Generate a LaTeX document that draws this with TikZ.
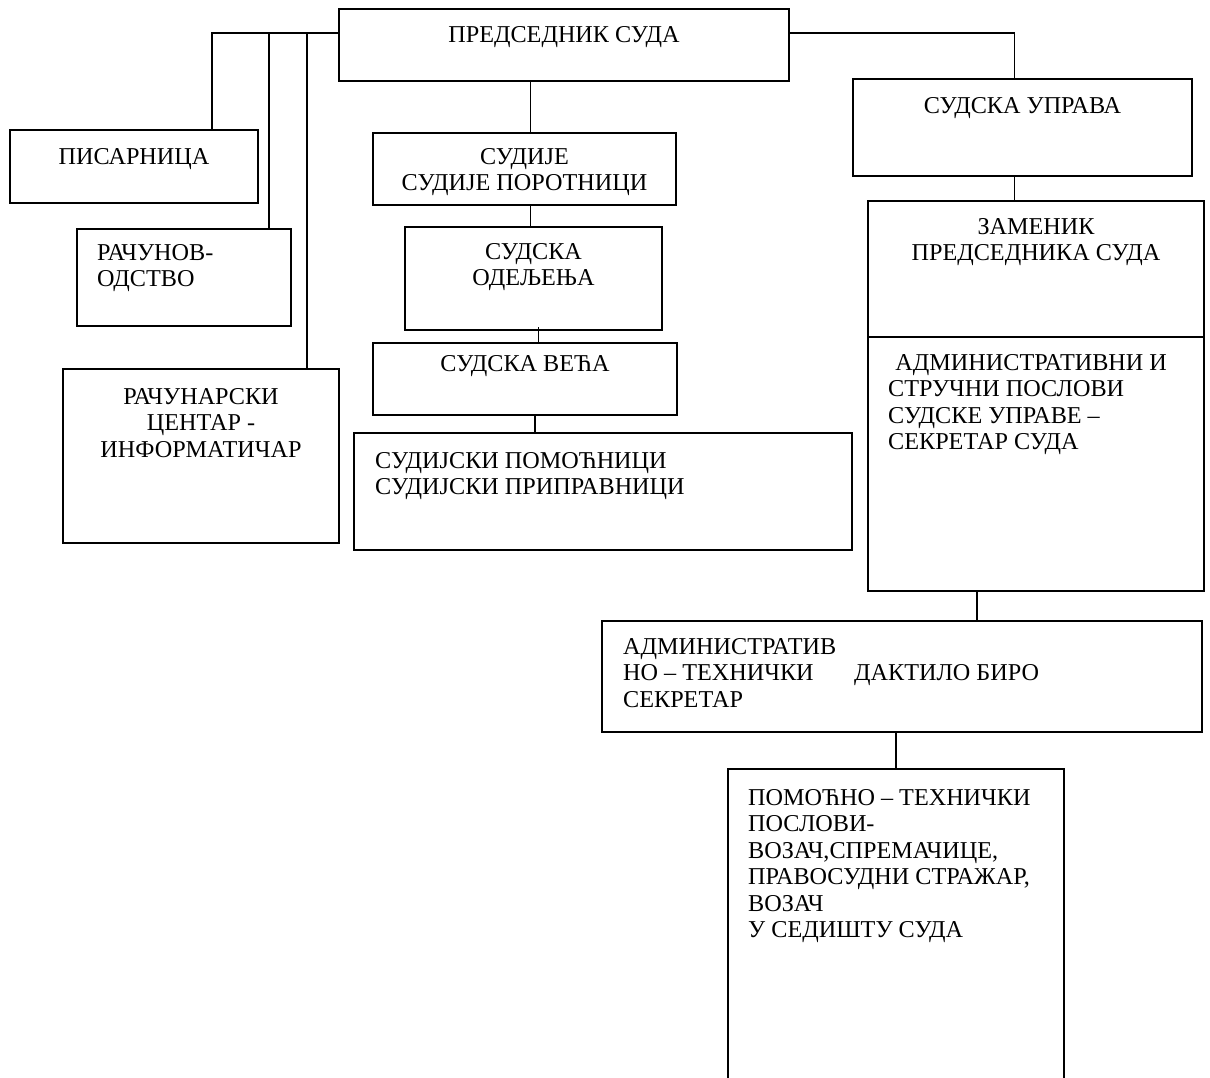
\documentclass[tikz,border=0pt]{standalone}
\usepackage{fontspec}
\setmainfont{Liberation Serif}
\usetikzlibrary{positioning}

\tikzset{
  box/.style={draw, line width=1.7pt, anchor=north west, inner sep=0pt, outer sep=0pt},
  link/.style={line width=1.7pt},
  txt/.style={inner sep=0pt, font=\fontsize{24.2}{26.5}\selectfont, align=center},
  txtl/.style={txt, align=left}
}

\begin{document}
\begin{tikzpicture}[x=1pt, y=-1pt]
  \useasboundingbox (0,0) rectangle (1210,1077);
  \clip (0,0) rectangle (1210,1077);

  % boxes
  \node[box, minimum width=450pt, minimum height=72pt] (pred) at (339,9) {};
  \node[box, minimum width=248pt, minimum height=73pt] (pis) at (10,130) {};
  \node[box, minimum width=214pt, minimum height=97pt] (racun) at (77,229) {};
  \node[box, minimum width=276pt, minimum height=174pt] (centar) at (63,369) {};
  \node[box, minimum width=303pt, minimum height=72pt] (sudije) at (373,133) {};
  \node[box, minimum width=257pt, minimum height=103pt] (odeljenja) at (405,227) {};
  \node[box, minimum width=304pt, minimum height=72pt] (veca) at (373,343) {};
  \node[box, minimum width=498pt, minimum height=117pt] (pomocnici) at (354,433) {};
  \node[box, minimum width=339pt, minimum height=97pt] (uprava) at (853,79) {};
  \node[box, minimum width=336pt, minimum height=390pt] (zamenik) at (868,201) {};
  \node[box, minimum width=600pt, minimum height=111pt] (admin) at (602,621) {};
  \node[box, minimum width=336pt, minimum height=340pt] (pomtech) at (728,769) {};
  \draw[link] ([yshift=-136pt]zamenik.north west) -- ([yshift=-136pt]zamenik.north east);

  % texts
  \node[txt, below=17pt of pred.north] (t-pred) {ПРЕДСЕДНИК СУДА};
  \node[txt, below=18pt of pis.north] (t-pis) {ПИСАРНИЦА};
  \node[txtl, below right=15pt and 20pt of racun.north west] (t-racun) {РАЧУНОВ-\\ОДСТВО};
  \node[txt, below=19pt of centar.north] (t-centar) {РАЧУНАРСКИ\\ЦЕНТАР -\\ИНФОРМАТИЧАР};
  \node[txt, below=15pt of sudije.north] (t-sudije) {СУДИЈЕ\\СУДИЈЕ ПОРОТНИЦИ};
  \node[txt, below=16pt of odeljenja.north] (t-odeljenja) {СУДСКА\\ОДЕЉЕЊА};
  \node[txt, below=12pt of veca.north] (t-veca) {СУДСКА ВЕЋА};
  \node[txtl, below right=19pt and 21pt of pomocnici.north west] (t-pomocnici) {СУДИЈСКИ ПОМОЋНИЦИ\\СУДИЈСКИ ПРИПРАВНИЦИ};
  \node[txt, below=18pt of uprava.north] (t-uprava) {СУДСКА УПРАВА};
  \node[txt, below=17pt of zamenik.north] (t-zamenik) {ЗАМЕНИК\\ПРЕДСЕДНИКА СУДА};
  \node[txtl, below right=153pt and 20pt of zamenik.north west] (t-sekretar)
    {\hspace*{0.3em}АДМИНИСТРАТИВНИ И\\СТРУЧНИ ПОСЛОВИ\\СУДСКЕ УПРАВЕ –\\СЕКРЕТАР СУДА};
  \node[txtl, below right=17pt and 21pt of admin.north west] (t-admin)
    {АДМИНИСТРАТИВ\\\makebox[231pt][l]{НО – ТЕХНИЧКИ}ДАКТИЛО БИРО\\СЕКРЕТАР};
  \node[txtl, below right=20pt and 20pt of pomtech.north west] (t-pomtech)
    {ПОМОЋНО – ТЕХНИЧКИ\\ПОСЛОВИ-\\ВОЗАЧ,СПРЕМАЧИЦЕ,\\ПРАВОСУДНИ СТРАЖАР,\\ВОЗАЧ\\У СЕДИШТУ СУДА};

  % connectors
  \coordinate (bus) at ([yshift=-24pt]pred.north west);
  \draw[link] (bus) -| ([xshift=202pt]pis.north west);
  \draw[link] (bus) -| ([xshift=192pt]racun.north west);
  \draw[link] (bus) -| ([xshift=244pt]centar.north west);
  \draw[link] ([yshift=-24pt]pred.north east) -| ([xshift=-8pt]uprava.north);
  \draw[link] ([xshift=-8pt]uprava.south) -- ([xshift=-8pt]uprava.south |- zamenik.north);
  \draw[link] ([xshift=6pt]sudije.north) -- ([xshift=6pt]sudije.north |- pred.south);
  \draw[link] ([xshift=6pt]sudije.south) -- ([xshift=6pt]sudije.south |- odeljenja.north);
  \draw[link] ([xshift=5pt,yshift=3pt]odeljenja.south) -- ([xshift=5pt]odeljenja.south |- veca.north);
  \draw[link] ([xshift=10pt]veca.south) -- ([xshift=10pt]veca.south |- pomocnici.north);
  \draw[link] ([xshift=-59pt]zamenik.south) -- ([xshift=-59pt]zamenik.south |- admin.north);
  \draw[link] (pomtech.north) -- (pomtech.north |- admin.south);
\end{tikzpicture}
\end{document}
